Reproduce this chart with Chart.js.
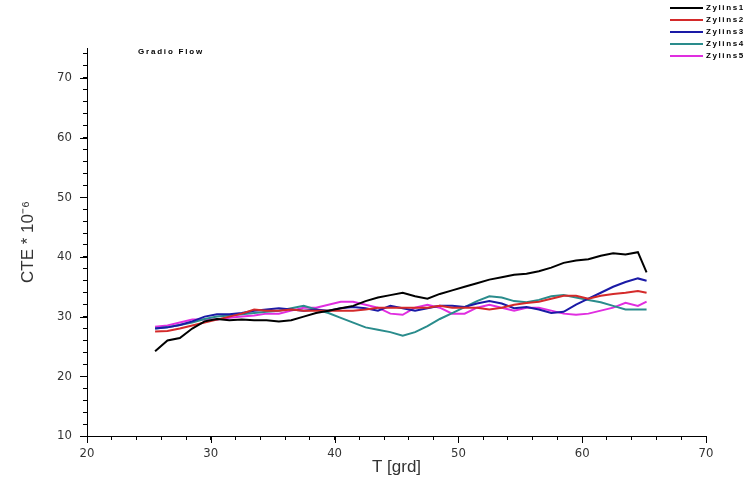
<!DOCTYPE html>
<html>
<head>
<meta charset="utf-8">
<script src="https://cdn.jsdelivr.net/npm/chart.js@4.4.1/dist/chart.umd.min.js"></script>
<style>
  html, body { margin: 0; padding: 0; background: #fff; }
  #wrap { width: 753px; height: 499px; position: relative; }
</style>
</head>
<body>
<div id="wrap"><canvas id="cteChart"></canvas></div>
<script>
// Temperatures (x) shared by all series
const temps = [25.5, 26.5, 27.5, 28.5, 29.5, 30.5, 31.5, 32.5, 33.5, 34.5,
  35.5, 36.5, 37.5, 38.5, 39.5, 40.5, 41.5, 42.5, 43.5, 44.5,
  45.5, 46.5, 47.5, 48.5, 49.5, 50.5, 51.5, 52.5, 53.5, 54.5,
  55.5, 56.5, 57.5, 58.5, 59.5, 60.5, 61.5, 62.5, 63.5, 64.5, 65.2];

const zyl1 = [24.2, 26.0, 26.4, 28.0, 29.2, 29.6, 29.4, 29.5, 29.4, 29.4,
  29.2, 29.4, 30.0, 30.6, 31.0, 31.4, 31.8, 32.6, 33.2, 33.6,
  34.0, 33.4, 33.0, 33.8, 34.4, 35.0, 35.6, 36.2, 36.6, 37.0,
  37.2, 37.6, 38.2, 39.0, 39.4, 39.6, 40.2, 40.6, 40.4, 40.8, 37.4];
const zyl2 = [27.5, 27.6, 28.0, 28.5, 29.0, 29.5, 30.0, 30.5, 31.2, 31.0,
  31.0, 31.2, 31.0, 31.0, 31.0, 31.0, 31.0, 31.2, 31.5, 31.5,
  31.5, 31.5, 31.5, 31.8, 31.5, 31.5, 31.5, 31.2, 31.5, 32.0,
  32.3, 32.5, 33.0, 33.5, 33.5, 33.0, 33.5, 33.8, 34.0, 34.3, 34.0];
const zyl3 = [28.0, 28.2, 28.6, 29.2, 30.0, 30.4, 30.4, 30.6, 31.0, 31.2,
  31.4, 31.2, 31.0, 31.2, 31.0, 31.4, 31.6, 31.4, 31.0, 31.8,
  31.4, 31.0, 31.4, 31.8, 31.8, 31.6, 32.2, 32.6, 32.2, 31.4,
  31.6, 31.2, 30.6, 30.8, 32.0, 33.0, 34.0, 35.0, 35.8, 36.4, 36.0];
const zyl4 = [28.0, 28.2, 28.6, 29.0, 29.6, 30.0, 30.2, 30.4, 30.6, 30.8,
  31.0, 31.4, 31.8, 31.2, 30.6, 29.8, 29.0, 28.2, 27.8, 27.4,
  26.8, 27.4, 28.4, 29.6, 30.6, 31.6, 32.6, 33.4, 33.2, 32.6,
  32.4, 32.8, 33.4, 33.6, 33.2, 32.8, 32.4, 31.8, 31.2, 31.2, 31.2];
const zyl5 = [28.3, 28.5, 29.0, 29.5, 29.5, 29.5, 29.8, 30.0, 30.2, 30.5,
  30.5, 31.0, 31.5, 31.5, 32.0, 32.5, 32.5, 32.0, 31.5, 30.5,
  30.3, 31.5, 32.0, 31.5, 30.5, 30.5, 31.5, 32.0, 31.5, 31.0,
  31.5, 31.5, 31.0, 30.5, 30.3, 30.5, 31.0, 31.5, 32.3, 31.8, 32.5];

const seriesNames = ["Zylins1", "Zylins2", "Zylins3", "Zylins4", "Zylins5"];
const seriesColors = ["#000000", "#d42a2a", "#1a1aa6", "#2a8c8c", "#e02ee0"];
const seriesValues = [zyl1, zyl2, zyl3, zyl4, zyl5];

const FONT = "'Liberation Sans Narrow', 'DejaVu Sans Condensed', 'Liberation Sans', sans-serif";

// longer major ticks, legend and note text
const extras = {
  id: "extras",
  afterDraw(chart) {
    const ctx = chart.ctx;
    const xs = chart.scales.x, ys = chart.scales.y;
    ctx.save();
    ctx.strokeStyle = "#000";
    ctx.lineWidth = 1;
    ctx.beginPath();
    for (let v = 20; v <= 70; v += 10) {
      const px = Math.round(xs.getPixelForValue(v)) + 0.5;
      ctx.moveTo(px, ys.bottom);
      ctx.lineTo(px, ys.bottom + 7);
    }
    for (let v = 10; v <= 70; v += 10) {
      const py = Math.round(ys.getPixelForValue(v)) + 0.5;
      ctx.moveTo(xs.left - 7, py);
      ctx.lineTo(xs.left, py);
    }
    ctx.stroke();

    // legend
    ctx.font = "bold 8px 'Liberation Sans', sans-serif";
    ctx.letterSpacing = "1.6px";
    ctx.textBaseline = "middle";
    chart.data.datasets.forEach((ds, i) => {
      const y = 8 + i * 12;
      ctx.strokeStyle = ds.borderColor;
      ctx.lineWidth = 2;
      ctx.beginPath();
      ctx.moveTo(670, y);
      ctx.lineTo(703, y);
      ctx.stroke();
      ctx.fillStyle = "#000";
      ctx.fillText(ds.label, 706, y);
    });

    ctx.letterSpacing = "1.8px";
    ctx.fillText("Gradio Flow", 138, 52);
    ctx.restore();
  }
};

const ctx = document.getElementById("cteChart").getContext("2d");
new Chart(ctx, {
  type: "line",
  data: {
    labels: temps,
    datasets: seriesValues.map((vals, i) => ({
      label: seriesNames[i],
      data: vals.map((v, j) => ({ x: temps[j], y: v })),
      borderColor: seriesColors[i],
      backgroundColor: seriesColors[i],
      borderWidth: 2,
      pointRadius: 0,
      tension: 0,
      fill: false
    }))
  },
  options: {
    responsive: true,
    maintainAspectRatio: false,
    animation: false,
    layout: { padding: { top: 48, right: 47, left: 0, bottom: 0 } },
    scales: {
      x: {
        type: "linear",
        min: 20,
        max: 70,
        afterFit: s => { s.height = 63; },
        border: { display: true, color: "#000", width: 1 },
        grid: { drawOnChartArea: false, drawTicks: true, tickLength: 4, tickColor: "#000" },
        ticks: {
          stepSize: 2,
          autoSkip: false,
          maxRotation: 0,
          padding: 6,
          color: "#333",
          font: { family: FONT, size: 13 },
          callback: v => (v % 10 === 0 ? v : "")
        },
        title: {
          display: true,
          text: "T [grd]",
          color: "#333",
          font: { family: "'Liberation Sans', sans-serif", size: 17 },
          padding: { top: 0, bottom: 21 }
        }
      },
      y: {
        min: 10,
        max: 75,
        afterFit: s => { s.width = 87; },
        border: { display: true, color: "#000", width: 1 },
        grid: { drawOnChartArea: false, drawTicks: true, tickLength: 4, tickColor: "#000" },
        ticks: {
          stepSize: 2,
          includeBounds: false,
          autoSkip: false,
          padding: 11,
          color: "#333",
          font: { family: FONT, size: 13 },
          callback: v => (v % 10 === 0 ? v : "")
        },
        title: {
          display: true,
          text: "CTE * 10\u207B\u2076",
          color: "#333",
          font: { family: "'Liberation Sans', sans-serif", size: 17 },
          padding: { top: 18, bottom: 0 }
        }
      }
    },
    plugins: {
      legend: { display: false },
      tooltip: { enabled: false }
    }
  },
  plugins: [extras]
});
</script>
</body>
</html>
